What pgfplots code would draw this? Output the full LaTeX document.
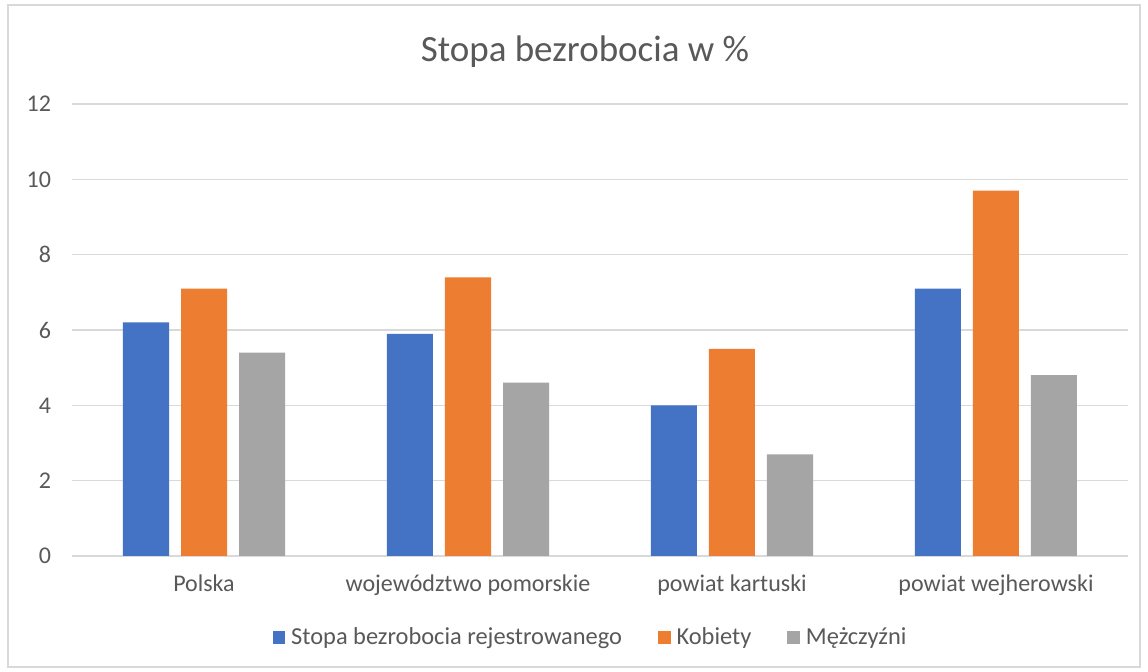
\documentclass[border=0pt]{standalone}
\usepackage{fontspec}
\setmainfont{Carlito}
\usepackage{pgfplots}
\pgfplotsset{compat=1.18}
\definecolor{cblue}{HTML}{4472C4}
\definecolor{corange}{HTML}{ED7D31}
\definecolor{cgray}{HTML}{A5A5A5}
\definecolor{ctext}{HTML}{595959}
\definecolor{cgrid}{HTML}{D9D9D9}
\begin{document}
\begin{tikzpicture}
\path[fill=white] (0pt,0pt) rectangle (574pt,336pt);
\draw[cgrid, line width=0.6pt] (4pt,2.5pt) rectangle (570pt,333.5pt);
\node[text=ctext, font=\fontsize{18.5}{22}\selectfont] at (292.5pt,310pt) {Stopa bezrobocia w \%};
\begin{axis}[
  at={(36pt,58pt)}, anchor=south west,
  scale only axis, width=528pt, height=226pt,
  ybar=6pt, bar width=23pt,
  xmin=-0.5, xmax=3.5, ymin=0, ymax=12,
  ytick={0,2,...,12},
  xtick=data,
  xticklabels={Polska, województwo pomorskie, powiat kartuski, powiat wejherowski},
  axis x line*=bottom, axis y line*=left,
  x axis line style={cgrid, line width=0.8pt},
  y axis line style={draw=none},
  ymajorgrids, grid style={cgrid, line width=0.8pt},
  major tick length=0pt,
  tick label style={text=ctext, font=\fontsize{12}{14}\selectfont},
  /pgf/number format/assume math mode=true,
  xticklabel style={yshift=-6pt},
  yticklabel style={xshift=-7pt},
  legend columns=3,
  legend style={at={(0.492,-0.181)}, anchor=center, draw=none, fill=none,
    font=\fontsize{12.2}{14}\selectfont, text=ctext,
    /tikz/every even column/.style={column sep=16pt}},
  legend image code/.code={\fill[#1] (0pt,-3.2pt) rectangle (6.3pt,3.2pt);},
  every axis plot/.append style={draw=none},
]
\addplot[fill=cblue] coordinates {(0,6.2) (1,5.9) (2,4.0) (3,7.1)};
\addplot[fill=corange] coordinates {(0,7.1) (1,7.4) (2,5.5) (3,9.7)};
\addplot[fill=cgray] coordinates {(0,5.4) (1,4.6) (2,2.7) (3,4.8)};
\legend{\hspace{1pt}Stopa bezrobocia rejestrowanego, \hspace{1pt}Kobiety, \hspace{1pt}Mężczyźni}
\end{axis}
\end{tikzpicture}
\end{document}
